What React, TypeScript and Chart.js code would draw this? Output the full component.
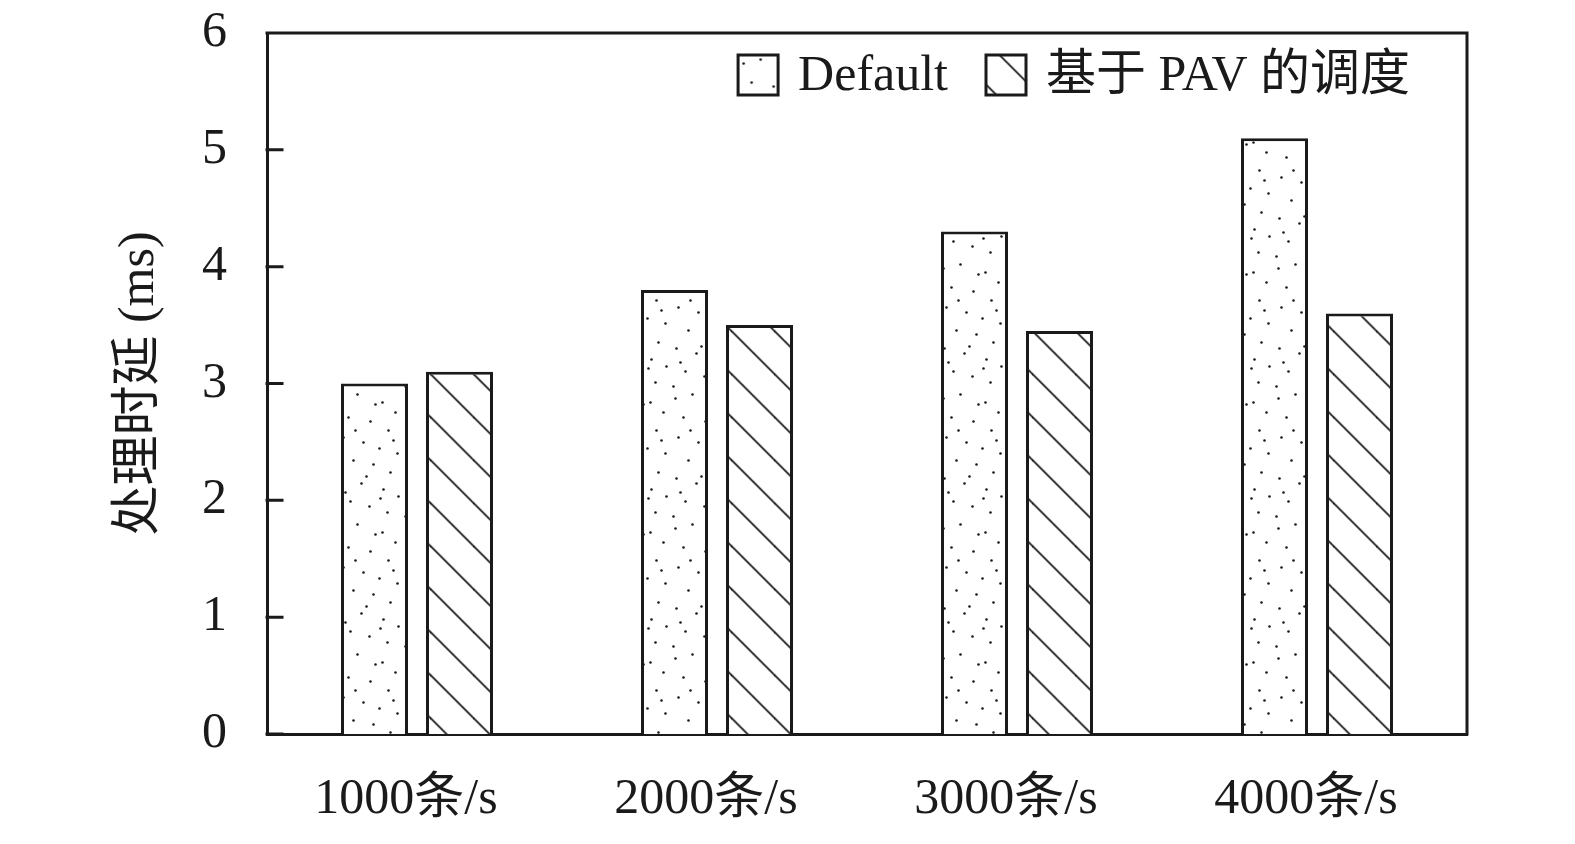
import { useEffect, useRef } from 'react'
import { Chart, registerables } from 'chart.js'

Chart.register(...registerables)

const CATEGORIES = ['1000条/s', '2000条/s', '3000条/s', '4000条/s']
const DEFAULT_MS = [3.0, 3.8, 4.3, 5.1]
const PAV_MS = [3.1, 3.5, 3.45, 3.6]
const SERIES_NAMES = ['Default', '基于 PAV 的调度']
const Y_MIN = 0
const Y_MAX = 6
const Y_STEP = 1
const Y_TITLE = '处理时延 (ms)'

const INK = '#1a1a1a'
const FONT = '"Liberation Serif", "Noto Sans CJK SC", serif'
const FONT_SIZE = 50

// stipple tile for the Default bars
const DOTS: [number, number][] = [
  [5, 8], [22, 4], [47, 12], [60, 22], [13, 27], [35, 31], [53, 40], [8, 47],
  [28, 52], [44, 58], [62, 63], [18, 70], [38, 74], [55, 82], [6, 88], [26, 93],
  [48, 99], [63, 106], [15, 111], [34, 116], [52, 122], [3, 126], [40, 14],
  [20, 40], [58, 50], [31, 86], [10, 102], [45, 108],
]

function dotPattern(ctx: CanvasRenderingContext2D): CanvasPattern {
  const c = document.createElement('canvas')
  c.width = 67
  c.height = 130
  const g = c.getContext('2d')!
  g.fillStyle = '#ffffff'
  g.fillRect(0, 0, c.width, c.height)
  g.fillStyle = INK
  for (const [x, y] of DOTS) {
    g.beginPath()
    g.arc(x + 0.5, y + 0.5, 1.3, 0, Math.PI * 2)
    g.fill()
  }
  return ctx.createPattern(c, 'repeat')!
}

function hatchPattern(ctx: CanvasRenderingContext2D): CanvasPattern {
  const s = 43
  const c = document.createElement('canvas')
  c.width = s
  c.height = s
  const g = c.getContext('2d')!
  g.fillStyle = '#ffffff'
  g.fillRect(0, 0, s, s)
  g.strokeStyle = INK
  g.lineWidth = 1.8
  for (const k of [-1, 0, 1]) {
    g.beginPath()
    g.moveTo(-2, k * s - 2)
    g.lineTo(s + 2, s + k * s + 2)
    g.stroke()
  }
  return ctx.createPattern(c, 'repeat')!
}

// top/right frame lines and inward y ticks
const framePlugin = {
  id: 'frame',
  afterDraw(chart: Chart) {
    const { ctx, chartArea: a } = chart
    const y = chart.scales.y
    ctx.save()
    ctx.strokeStyle = INK
    ctx.lineWidth = 3
    ctx.lineCap = 'square'
    ctx.beginPath()
    ctx.moveTo(a.left, a.top)
    ctx.lineTo(a.right, a.top)
    ctx.lineTo(a.right, a.bottom)
    for (const t of y.ticks) {
      const py = y.getPixelForValue(t.value)
      ctx.moveTo(a.left, py)
      ctx.lineTo(a.left + 15, py)
    }
    ctx.stroke()
    ctx.restore()
  },
}

// legend drawn inside the plot frame, top right
const innerLegend = {
  id: 'innerLegend',
  afterDraw(chart: Chart) {
    const { ctx, chartArea: a } = chart
    const box = 40
    const gapText = 20
    const gapItem = 38
    ctx.save()
    ctx.font = `${FONT_SIZE}px ${FONT}`
    const items = chart.data.datasets.map((ds) => ({
      label: ds.label as string,
      fill: ds.backgroundColor as CanvasPattern,
      w: ctx.measureText(ds.label as string).width,
    }))
    const total = items.reduce((s, it) => s + box + gapText + it.w, 0) + gapItem * (items.length - 1)
    let x = a.right - 57 - total
    const top = a.top + 22
    for (const it of items) {
      ctx.save()
      ctx.translate(x, top)
      ctx.fillStyle = it.fill
      ctx.fillRect(0, 0, box, box)
      ctx.restore()
      ctx.strokeStyle = INK
      ctx.lineWidth = 3
      ctx.strokeRect(x, top, box, box)
      ctx.fillStyle = INK
      ctx.textBaseline = 'alphabetic'
      ctx.textAlign = 'left'
      ctx.fillText(it.label, x + box + gapText, top + 35)
      x += box + gapText + it.w + gapItem
    }
    ctx.restore()
  },
}

export default function App() {
  const canvasRef = useRef<HTMLCanvasElement>(null)
  const chartRef = useRef<Chart | null>(null)

  useEffect(() => {
    document.body.style.margin = '0'
    chartRef.current?.destroy()
    chartRef.current = null
    if (!canvasRef.current) return
    const ctx = canvasRef.current.getContext('2d')!

    const dots = dotPattern(ctx)
    const hatch = hatchPattern(ctx)
    hatch.setTransform(new DOMMatrix().translate(0, 29.5))

    chartRef.current = new Chart(canvasRef.current, {
      type: 'bar',
      data: {
        labels: CATEGORIES,
        datasets: [
          {
            label: SERIES_NAMES[0],
            data: DEFAULT_MS,
            backgroundColor: dots,
            borderColor: INK,
            borderWidth: 3,
          },
          {
            label: SERIES_NAMES[1],
            data: PAV_MS,
            backgroundColor: hatch,
            borderColor: INK,
            borderWidth: 3,
          },
        ],
      },
      options: {
        responsive: true,
        maintainAspectRatio: false,
        animation: false,
        datasets: {
          bar: { categoryPercentage: 0.5667, barPercentage: 0.788 },
        },
        layout: { padding: { left: 0, top: 33, right: 108, bottom: 0 } },
        plugins: {
          legend: { display: false },
          tooltip: { enabled: false },
        },
        scales: {
          x: {
            offset: true,
            grid: { display: false, drawTicks: false },
            border: { display: true, color: INK, width: 3 },
            ticks: {
              color: INK,
              font: { family: FONT, size: FONT_SIZE },
              padding: 36,
              labelOffset: -11,
              maxRotation: 0,
            },
            afterFit: (scale) => {
              scale.height = 110
              scale.paddingLeft = 0
              scale.paddingRight = 0
            },
          },
          y: {
            min: Y_MIN,
            max: Y_MAX,
            grid: { display: false, drawTicks: false },
            border: { display: true, color: INK, width: 3 },
            ticks: {
              stepSize: Y_STEP,
              color: INK,
              font: { family: FONT, size: FONT_SIZE },
              padding: 40,
            },
            title: {
              display: true,
              text: Y_TITLE,
              color: INK,
              font: { family: FONT, size: FONT_SIZE },
              padding: { top: 110, bottom: 0 },
            },
            afterFit: (scale) => {
              scale.width = 267
              scale.paddingTop = 0
              scale.paddingBottom = 0
            },
          },
        },
      },
      plugins: [framePlugin, innerLegend],
    })

    return () => {
      chartRef.current?.destroy()
      chartRef.current = null
    }
  }, [])

  return (
    <div style={{ width: 1575, height: 844, position: 'relative', background: '#ffffff' }}>
      <canvas ref={canvasRef} />
    </div>
  )
}
